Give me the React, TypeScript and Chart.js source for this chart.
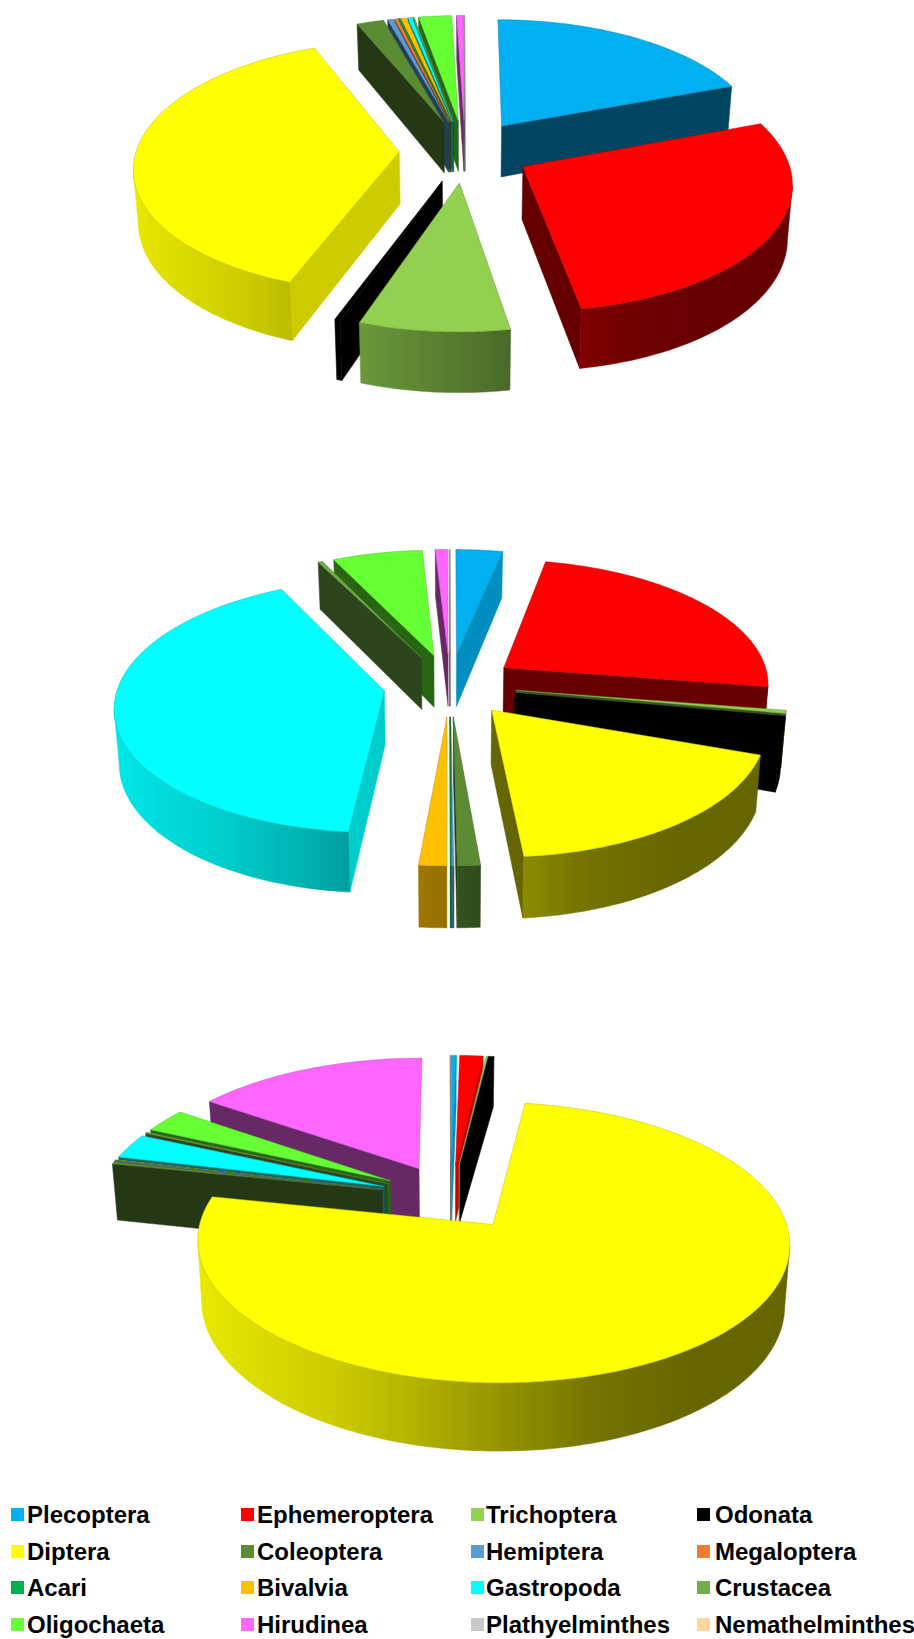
import React, { useEffect, useRef } from "react";
import { Chart, registerables } from "chart.js";

Chart.register(...registerables);

const taxa = [
  "Plecoptera", "Ephemeroptera", "Trichoptera", "Odonata",
  "Diptera", "Coleoptera", "Hemiptera", "Megaloptera",
  "Acari", "Bivalvia", "Gastropoda", "Crustacea",
  "Oligochaeta", "Hirudinea", "Plathyelminthes", "Nemathelminthes",
];

const taxaColors = [
  "#00B0F0", "#FF0000", "#92D050", "#000000",
  "#FFFF00", "#5B8C34", "#5B9BD5", "#ED7D31",
  "#00B050", "#FFC000", "#00FFFF", "#70AD47",
  "#66FF33", "#FF66FF", "#C9C9C9", "#FFD5A0",
];

// Relative abundance (%) of each taxon at the three sites
const siteA = [19.3, 28.0, 8.0, 0.3, 38.15, 1.9, 0.4, 0.25, 0.1, 0.4, 0.3, 0.1, 2.3, 0.45, 0.03, 0.03];
const siteB = [3.2, 24.2, 0.4, 2.5, 18.15, 1.2, 0.1, 0.03, 0.03, 1.45, 41, 0.3, 6.2, 0.85, 0.02, 0.02];
const siteC = [0.3, 1.5, 0.1, 0.35, 76, 0.3, 0.05, 0.03, 0.05, 0.05, 3, 0.15, 2.9, 15.1, 0.02, 0.02];

// Slice separation, as a percentage of the radius
const EXPLOSION = 25;

type Tilt = { cx: number; cy: number; rx: number; ry: number; k: number; depth: number };

const panels: { values: number[]; top: number; height: number; tilt: Tilt }[] = [
  { values: siteA, top: 0, height: 480, tilt: { cx: 465, cy: 151, rx: 263, ry: 124, k: 0.115, depth: 52 } },
  { values: siteB, top: 500, height: 480, tilt: { cx: 450, cy: 185, rx: 266, ry: 124, k: 0.115, depth: 53 } },
  { values: siteC, top: 1020, height: 470, tilt: { cx: 451, cy: 177, rx: 286, ry: 131, k: 0.125, depth: 58 } },
];

const shadeStops: [number, number][] = [
  [-1, 0.92], [-0.5, 0.8], [-0.25, 0.7], [0, 0.58], [0.3, 0.45], [0.6, 0.4], [1, 0.4],
];

// Brightness of the curved rim, from its normal's horizontal component
function rimShade(a: number) {
  for (let i = 1; i < shadeStops.length; i++) {
    const [x0, y0] = shadeStops[i - 1];
    const [x1, y1] = shadeStops[i];
    if (a <= x1) return y0 + ((a - x0) / (x1 - x0)) * (y1 - y0);
  }
  return 0.4;
}

// Brightness of the flat radial cut faces
function cutShade(a: number) {
  return a > 0.75 ? 0.8 : 0.4;
}

function tint(hex: string, f: number) {
  const n = parseInt(hex.slice(1), 16);
  const r = Math.round(((n >> 16) & 255) * f);
  const g = Math.round(((n >> 8) & 255) * f);
  const b = Math.round((n & 255) * f);
  return `rgb(${r},${g},${b})`;
}

function project(t: Tilt, a: number, b: number, z: number) {
  const s = 1 / (1 - t.k * b);
  return {
    x: t.cx + t.rx * a * s * (1 - 0.015 * z),
    y: t.cy + t.ry * b * s + t.depth * s * z,
  };
}

function fillPoly(ctx: CanvasRenderingContext2D, pts: { x: number; y: number }[], color: any, edge: any = color) {
  ctx.beginPath();
  pts.forEach((p, i) => (i ? ctx.lineTo(p.x, p.y) : ctx.moveTo(p.x, p.y)));
  ctx.closePath();
  ctx.fillStyle = color;
  ctx.fill();
  ctx.strokeStyle = edge;
  ctx.lineWidth = 0.5;
  ctx.stroke();
}

// Paints the arcs laid out by the pie controller as raised, separated wedges
const tiltedPie = {
  id: "tiltedPie",
  beforeDatasetDraw() {
    return false;
  },
  afterDatasetsDraw(chart: any, _args: any, opts: Tilt) {
    const ctx: CanvasRenderingContext2D = chart.ctx;
    const arcs = chart.getDatasetMeta(0).data;
    const slices = arcs.map((arc: any) => {
      const start = arc.startAngle;
      const end = arc.endAngle;
      const mid = (start + end) / 2;
      const e = (arc.options.offset || 0) / 100;
      const ox = Math.cos(mid) * e;
      const oy = Math.sin(mid) * e;
      const n = Math.max(2, Math.ceil((end - start) / (Math.PI / 180)));
      const angles: number[] = [];
      for (let j = 0; j <= n; j++) angles.push(start + ((end - start) * j) / n);
      const meanSin = angles.reduce((acc, t) => acc + Math.sin(t), 0) / angles.length;
      return { start, end, ox, oy, angles, depthKey: oy + (2 / 3) * meanSin, color: arc.options.backgroundColor };
    });
    slices.sort((p: any, q: any) => p.depthKey - q.depthKey);

    ctx.save();
    for (const s of slices) {
      const apex = (z: number) => project(opts, s.ox, s.oy, z);
      const rim = (t: number, z: number) => project(opts, s.ox + Math.cos(t), s.oy + Math.sin(t), z);

      // Radial cut faces that turn towards the viewer
      if (-Math.cos(s.start) > 0) {
        const a = Math.cos(s.start - Math.PI / 2);
        fillPoly(ctx, [apex(0), rim(s.start, 0), rim(s.start, 1), apex(1)], tint(s.color, cutShade(a)));
      }
      if (Math.cos(s.end) > 0) {
        const a = Math.cos(s.end + Math.PI / 2);
        fillPoly(ctx, [apex(0), rim(s.end, 0), rim(s.end, 1), apex(1)], tint(s.color, cutShade(a)));
      }

      // Curved rim, up to the silhouette tangent, shaded from left to right
      const front = s.angles.filter((t: number) => {
        const a = s.ox + Math.cos(t);
        const b = s.oy + Math.sin(t);
        return Math.sin(t) * (1 - opts.k * b) - opts.k * a * Math.cos(t) > 0;
      });
      if (front.length > 1) {
        const upper = front.map((t: number) => rim(t, 0));
        const lower = front.map((t: number) => rim(t, 1)).reverse();
        const xs = upper.map((p: { x: number }) => p.x);
        const xMin = Math.min(...xs);
        const xMax = Math.max(...xs);
        const grad = ctx.createLinearGradient(xMin, 0, xMax, 0);
        front.forEach((t: number, j: number) => {
          const f = xMax > xMin ? (upper[j].x - xMin) / (xMax - xMin) : 0;
          grad.addColorStop(Math.min(1, Math.max(0, f)), tint(s.color, rimShade(Math.cos(t))));
        });
        fillPoly(ctx, [...upper, ...lower], grad);
      }

      // Top surface
      const top = [apex(0), ...s.angles.map((t: number) => rim(t, 0))];
      fillPoly(ctx, top, s.color, tint(s.color, 0.75));
    }
    ctx.restore();
  },
};

function Panel({ values, top, height, tilt }: (typeof panels)[number]) {
  const ref = useRef<HTMLCanvasElement>(null);
  useEffect(() => {
    const chart = new Chart(ref.current!, {
      type: "pie",
      plugins: [tiltedPie],
      data: {
        labels: taxa,
        datasets: [{ data: values, backgroundColor: taxaColors, offset: EXPLOSION, borderWidth: 0 }],
      },
      options: {
        animation: false,
        responsive: false,
        plugins: { legend: { display: false }, tooltip: { enabled: false }, tiltedPie: tilt },
      },
    } as any);
    return () => chart.destroy();
  }, []);
  return (
    <canvas
      ref={ref}
      width={914}
      height={height}
      style={{ position: "absolute", left: 0, top, width: 914, height }}
    />
  );
}

const legendColumns = [
  { swatch: 11, text: 27 },
  { swatch: 241, text: 257 },
  { swatch: 471, text: 486 },
  { swatch: 697, text: 715 },
];
const legendRows = [1515, 1552, 1588, 1625];

export default function App() {
  return (
    <div style={{ position: "absolute", left: 0, top: 0, width: 914, height: 1639, background: "#fff", overflow: "hidden" }}>
      {panels.map((p, i) => (
        <Panel key={i} {...p} />
      ))}
      {taxa.map((name, i) => {
        const col = legendColumns[i % 4];
        const y = legendRows[Math.floor(i / 4)];
        return (
          <React.Fragment key={name}>
            <div style={{ position: "absolute", left: col.swatch, top: y - 7, width: 13, height: 13, background: taxaColors[i] }} />
            <div
              style={{
                position: "absolute",
                left: col.text,
                top: y - 15,
                height: 30,
                lineHeight: "30px",
                fontFamily: "'Liberation Sans', Arial, sans-serif",
                fontWeight: 700,
                fontSize: 24,
                color: "#000",
                whiteSpace: "nowrap",
              }}
            >
              {name}
            </div>
          </React.Fragment>
        );
      })}
    </div>
  );
}
